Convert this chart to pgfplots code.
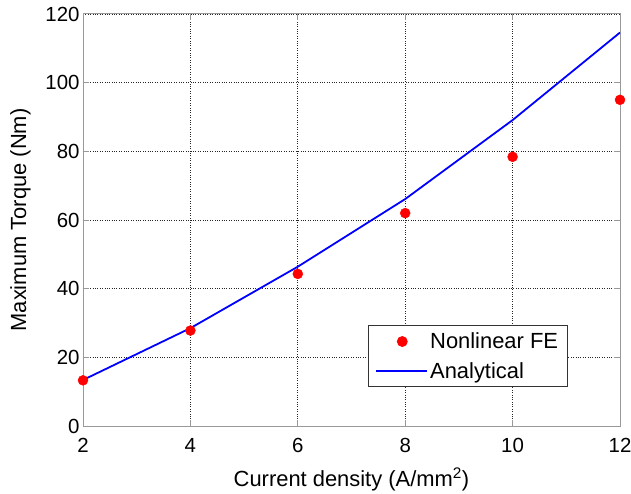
\documentclass[border=0pt]{standalone}
\usepackage{pgfplots}
\pgfplotsset{compat=1.18}
\usepackage{fontspec}
\setmainfont{Liberation Sans}
\begin{document}
\begin{tikzpicture}
\begin{axis}[
  scale only axis,
  width=537bp, height=412bp,
  xmin=2, xmax=12, ymin=0, ymax=120,
  xtick={2,4,...,12}, ytick={0,20,...,120},
  /pgf/number format/assume math mode=true,
  tick label style={font=\fontsize{20.5}{22}\selectfont},
  xticklabel style={yshift=-9bp},
  xlabel style={font=\fontsize{22}{24}\selectfont, yshift=-8bp},
  ylabel style={font=\fontsize{22}{24}\selectfont, yshift=8bp},
  xlabel={Current density (A/mm\textsuperscript{2})},
  ylabel={Maximum Torque (Nm)},
  grid=major,
  major grid style={black!85, dotted, line width=0.7pt},
  axis line style={gray!80, line width=1pt},
  tick style={gray!80, line width=1pt},
  tick align=inside,
  major tick length=6bp,
  legend style={at={(0.5307,0.0947)}, anchor=south west, draw=black!80, line width=0.8pt,
    font=\fontsize{22}{24}\selectfont, row sep=8bp, inner xsep=7bp, inner ysep=5bp,
    nodes={inner sep=2bp}},
  legend cell align=left,
]
\addplot[only marks, mark=*, mark size=5bp, color=red,
  legend image code/.code={\fill[red] (26bp,0bp) circle (5bp); \path[draw=none,fill=none] (0bp,0bp) rectangle (51bp,0.1bp);}] coordinates {
 (2,13.3) (4,27.8) (6,44.3) (8,62.0) (10,78.4) (12,95.0)};
\addlegendentry{Nonlinear FE}
\addplot[blue, line width=1.8pt,
  legend image code/.code={\draw[blue, line width=1.8pt] (0bp,0bp) -- (51bp,0bp);}] coordinates {
 (2,13.4) (4,28.5) (6,46.4) (8,66.1) (10,89.1) (12,114.6)};
\addlegendentry{Analytical}
\end{axis}
\pgfresetboundingbox
\path[use as bounding box] (current axis.south west) ++(-83bp,-68bp) rectangle ++(631bp,494bp);
\end{tikzpicture}
\end{document}
